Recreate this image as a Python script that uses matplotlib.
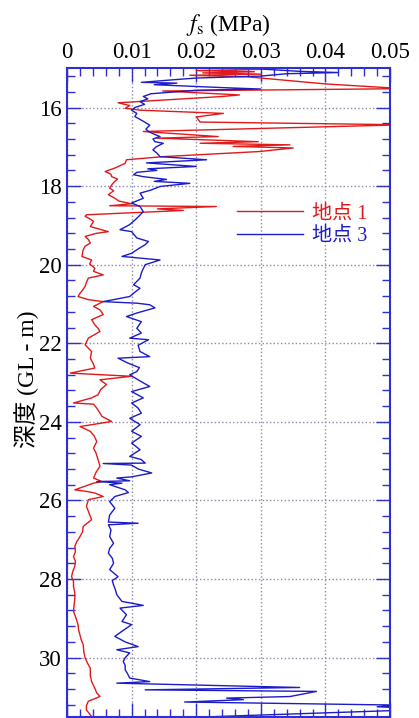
import numpy as np
import matplotlib
matplotlib.use("Agg")
import matplotlib.pyplot as plt
from matplotlib.ticker import MultipleLocator, FixedLocator, FixedFormatter

plt.rcParams['font.family'] = ['Liberation Serif', 'Noto Sans CJK JP']
plt.rcParams['mathtext.fontset'] = 'stix'

# site 1 (red): depth (m), fs (MPa)
depth1 = [15.03, 15.06, 15.09, 15.12, 15.15, 15.18, 15.22, 15.25, 15.40, 15.52,
          15.58, 15.68, 15.72, 15.88, 15.95, 16.02, 16.07, 16.15, 16.24, 16.37,
          16.44, 16.61, 16.74, 16.78, 16.87, 16.91, 16.95, 16.99, 17.03, 17.12,
          17.25, 17.33, 17.42, 17.48, 17.54, 17.63, 17.70, 17.76, 17.82, 17.88,
          17.95, 18.05, 18.12, 18.22, 18.31, 18.38, 18.45, 18.50, 18.52, 18.58,
          18.62, 18.73, 18.77, 18.83, 18.90, 19.03, 19.16, 19.20, 19.28, 19.36,
          19.45, 19.53, 19.62, 19.79, 19.88, 19.98, 20.09, 20.17, 20.26, 20.34,
          20.45, 20.55, 20.65, 20.73, 20.81, 20.89, 20.94, 21.06, 21.15, 21.27,
          21.40, 21.53, 21.62, 21.70, 21.87, 22.04, 22.21, 22.38, 22.50, 22.63,
          22.76, 22.84, 22.93, 23.05, 23.18, 23.31, 23.39, 23.52, 23.55, 23.65,
          23.75, 23.86, 23.99, 24.12, 24.24, 24.36, 24.50, 24.67, 24.80, 24.96,
          25.13, 25.28, 25.43, 25.52, 25.56, 25.73, 25.77, 25.81, 25.90, 25.98,
          26.15, 26.32, 26.49, 26.66, 26.80, 26.92, 27.05, 27.17, 27.30, 27.43,
          27.55, 27.68, 27.80, 27.94, 28.06, 28.19, 28.35, 28.49, 28.65, 28.82,
          29.00, 29.16, 29.30, 29.42, 29.55, 29.67, 29.85, 30.01, 30.15, 30.27,
          30.45, 30.61, 30.78, 30.90, 30.99, 31.11, 31.22, 31.33, 31.50]
fs1 = [0.030, 0.020, 0.029, 0.021, 0.030, 0.019, 0.028, 0.030, 0.040, 0.052,
       0.0148, 0.0267, 0.0240, 0.0079, 0.0097, 0.0090, 0.0115, 0.0242, 0.0200, 0.0206,
       0.052, 0.0118, 0.0234, 0.0139, 0.0296, 0.0206, 0.0345, 0.0257, 0.0350, 0.0298,
       0.0149, 0.0092, 0.0090, 0.0082, 0.0074, 0.0059, 0.0068, 0.0069, 0.0078, 0.0074,
       0.0070, 0.0066, 0.0072, 0.0064, 0.0074, 0.0080, 0.0100, 0.0066, 0.0231, 0.0140,
       0.0180, 0.0030, 0.0028, 0.0035, 0.0041, 0.0036, 0.0064, 0.0046, 0.0028, 0.0033,
       0.0036, 0.0028, 0.0025, 0.0023, 0.0038, 0.0035, 0.0043, 0.0041, 0.0056, 0.0033,
       0.0030, 0.0028, 0.0024, 0.0020, 0.0017, 0.0033, 0.0056, 0.0041, 0.0051, 0.0056,
       0.0038, 0.0043, 0.0048, 0.0051, 0.0033, 0.0028, 0.0038, 0.0036, 0.0040, 0.0043,
       0.0005, 0.0100, 0.0051, 0.0061, 0.0052, 0.0048, 0.0038, 0.0010, 0.0041, 0.0046,
       0.0050, 0.0054, 0.0069, 0.0020, 0.0036, 0.0042, 0.0046, 0.0041, 0.0045, 0.0048,
       0.0051, 0.0045, 0.0041, 0.0054, 0.0041, 0.0012, 0.0030, 0.0043, 0.0056, 0.0033,
       0.0030, 0.0034, 0.0038, 0.0025, 0.0024, 0.0020, 0.0015, 0.0012, 0.0013, 0.0010,
       0.0013, 0.0012, 0.0009, 0.0007, 0.0010, 0.0010, 0.0012, 0.0012, 0.0011, 0.0010,
       0.0014, 0.0017, 0.0018, 0.0020, 0.0022, 0.0025, 0.0026, 0.0028, 0.0032, 0.0036,
       0.0036, 0.0038, 0.0043, 0.0046, 0.0051, 0.0033, 0.0030, 0.0030, 0.0038]

# site 3 (blue)
depth3 = [15.02, 15.08, 15.11, 15.14, 15.20, 15.25, 15.30, 15.36, 15.38, 15.42,
          15.50, 15.53, 15.56, 15.65, 15.72, 15.78, 15.85, 15.92, 16.00, 16.07,
          16.15, 16.23, 16.35, 16.45, 16.55, 16.61, 16.68, 16.74, 16.80, 16.87,
          16.91, 17.00, 17.08, 17.16, 17.25, 17.33, 17.41, 17.50, 17.56, 17.60,
          17.65, 17.71, 17.76, 17.83, 17.88, 17.93, 18.01, 18.10, 18.18, 18.31,
          18.43, 18.52, 18.65, 18.82, 18.98, 19.11, 19.16, 19.32, 19.41, 19.49,
          19.60, 19.71, 19.79, 19.88, 20.00, 20.10, 20.21, 20.34, 20.51, 20.60,
          20.70, 20.81, 20.94, 20.98, 21.02, 21.10, 21.23, 21.32, 21.45, 21.62,
          21.74, 21.87, 21.91, 22.05, 22.21, 22.34, 22.38, 22.51, 22.62, 22.72,
          22.80, 22.95, 23.10, 23.23, 23.39, 23.52, 23.65, 23.78, 23.91, 24.07,
          24.24, 24.37, 24.54, 24.71, 24.88, 24.96, 25.05, 25.06, 25.10, 25.20,
          25.30, 25.40, 25.43, 25.50, 25.52, 25.56, 25.60, 25.73, 25.80, 25.90,
          26.03, 26.20, 26.37, 26.55, 26.58, 26.62, 26.75, 26.92, 27.09, 27.22,
          27.34, 27.47, 27.60, 27.76, 27.94, 28.04, 28.15, 28.28, 28.40, 28.57,
          28.67, 28.74, 28.91, 29.08, 29.16, 29.33, 29.46, 29.60, 29.72, 29.80,
          29.88, 30.00, 30.10, 30.20, 30.31, 30.42, 30.52, 30.61, 30.65, 30.76,
          30.82, 30.86, 30.99, 31.03, 31.07, 31.13, 31.21, 31.25, 31.28, 31.35,
          31.50]
fs3 = [0.030, 0.036, 0.042, 0.034, 0.030, 0.020, 0.016, 0.0115, 0.0170, 0.0135,
       0.0250, 0.0300, 0.0200, 0.0130, 0.0118, 0.0125, 0.0113, 0.0120, 0.0105, 0.0100,
       0.0108, 0.0105, 0.0118, 0.0128, 0.0122, 0.0126, 0.0135, 0.0144, 0.0133, 0.0136,
       0.0149, 0.0138, 0.0133, 0.0139, 0.0144, 0.0216, 0.0123, 0.0200, 0.0125, 0.0139,
       0.0108, 0.0103, 0.0118, 0.0154, 0.0135, 0.0190, 0.0144, 0.0130, 0.0113, 0.0118,
       0.0100, 0.0113, 0.0118, 0.0108, 0.0097, 0.0082, 0.0100, 0.0108, 0.0126, 0.0121,
       0.0110, 0.0100, 0.0085, 0.0144, 0.0121, 0.0118, 0.0115, 0.0113, 0.0103, 0.0113,
       0.0105, 0.0097, 0.0056, 0.0108, 0.0128, 0.0136, 0.0108, 0.0092, 0.0115, 0.0108,
       0.0115, 0.0097, 0.0126, 0.0110, 0.0113, 0.0128, 0.0079, 0.0095, 0.0112, 0.0108,
       0.0097, 0.0112, 0.0128, 0.0100, 0.0118, 0.0100, 0.0110, 0.0115, 0.0097, 0.0113,
       0.0100, 0.0115, 0.0100, 0.0113, 0.0097, 0.0115, 0.0121, 0.0056, 0.0100, 0.0110,
       0.0131, 0.0100, 0.0077, 0.0097, 0.0046, 0.0085, 0.0066, 0.0090, 0.0095, 0.0074,
       0.0066, 0.0074, 0.0066, 0.0064, 0.0110, 0.0064, 0.0068, 0.0066, 0.0072, 0.0066,
       0.0064, 0.0070, 0.0072, 0.0066, 0.0079, 0.0070, 0.0072, 0.0075, 0.0077, 0.0085,
       0.0118, 0.0082, 0.0092, 0.0085, 0.0100, 0.0085, 0.0074, 0.0090, 0.0110, 0.0077,
       0.0097, 0.0090, 0.0087, 0.0090, 0.0090, 0.0094, 0.0097, 0.0128, 0.0077, 0.0360,
       0.0121, 0.0386, 0.0345, 0.0247, 0.0273, 0.0182, 0.0520, 0.0480, 0.0520, 0.0500,
       0.0230]

xticks = [0, 0.01, 0.02, 0.03, 0.04, 0.05]
xtick_labels = ['0', '0.01', '0.02', '0.03', '0.04', '0.05']
yticks = [16, 18, 20, 22, 24, 26, 28, 30]

red = '#e01a1a'
blue = '#1c1cc8'
frame = '#2f2fd2'

fig = plt.figure(figsize=(4.19, 7.18), dpi=100)
ax = fig.add_axes([0.160, 0.002, 0.771, 0.903])

ax.plot(fs1, depth1, color=red, lw=1.0, label='地点 1')
ax.plot(fs3, depth3, color=blue, lw=1.0, label='地点 3')

ax.set_xlim(0, 0.05)
ax.set_ylim(31.5, 15.0)

ax.xaxis.set_major_locator(FixedLocator(xticks))
ax.xaxis.set_major_formatter(FixedFormatter(xtick_labels))
ax.xaxis.set_minor_locator(MultipleLocator(0.002))
ax.yaxis.set_major_locator(FixedLocator(yticks))
ax.yaxis.set_minor_locator(MultipleLocator(0.4))

ax.tick_params(which='both', direction='in', top=True, right=True,
               labeltop=True, labelbottom=False, color=frame, width=1.0,
               labelsize=16.5)
ax.tick_params(which='major', length=10, pad=4)
ax.tick_params(which='minor', length=6)

for s in ax.spines.values():
    s.set_color(frame)
    s.set_linewidth(1.5)

ax.grid(True, which='major', ls=':', color='#8a8aaa', lw=1.0)

ax.xaxis.set_label_position('top')
ax.set_xlabel(r'$f_\mathrm{s}$ (MPa)', fontsize=17, labelpad=8)
ax.set_ylabel('深度 (GL - m)', fontsize=17, va='center')
ax.yaxis.set_label_coords(-0.125, 0.52)

leg = ax.legend(loc='upper left', bbox_to_anchor=(0.525, 0.79), frameon=False,
                fontsize=14.5, handlelength=3.3, handletextpad=0.45,
                labelspacing=0.15, borderpad=0, borderaxespad=0)
for txt, c in zip(leg.get_texts(), [red, blue]):
    txt.set_color(c)

fig.savefig('out.png', dpi=100)
